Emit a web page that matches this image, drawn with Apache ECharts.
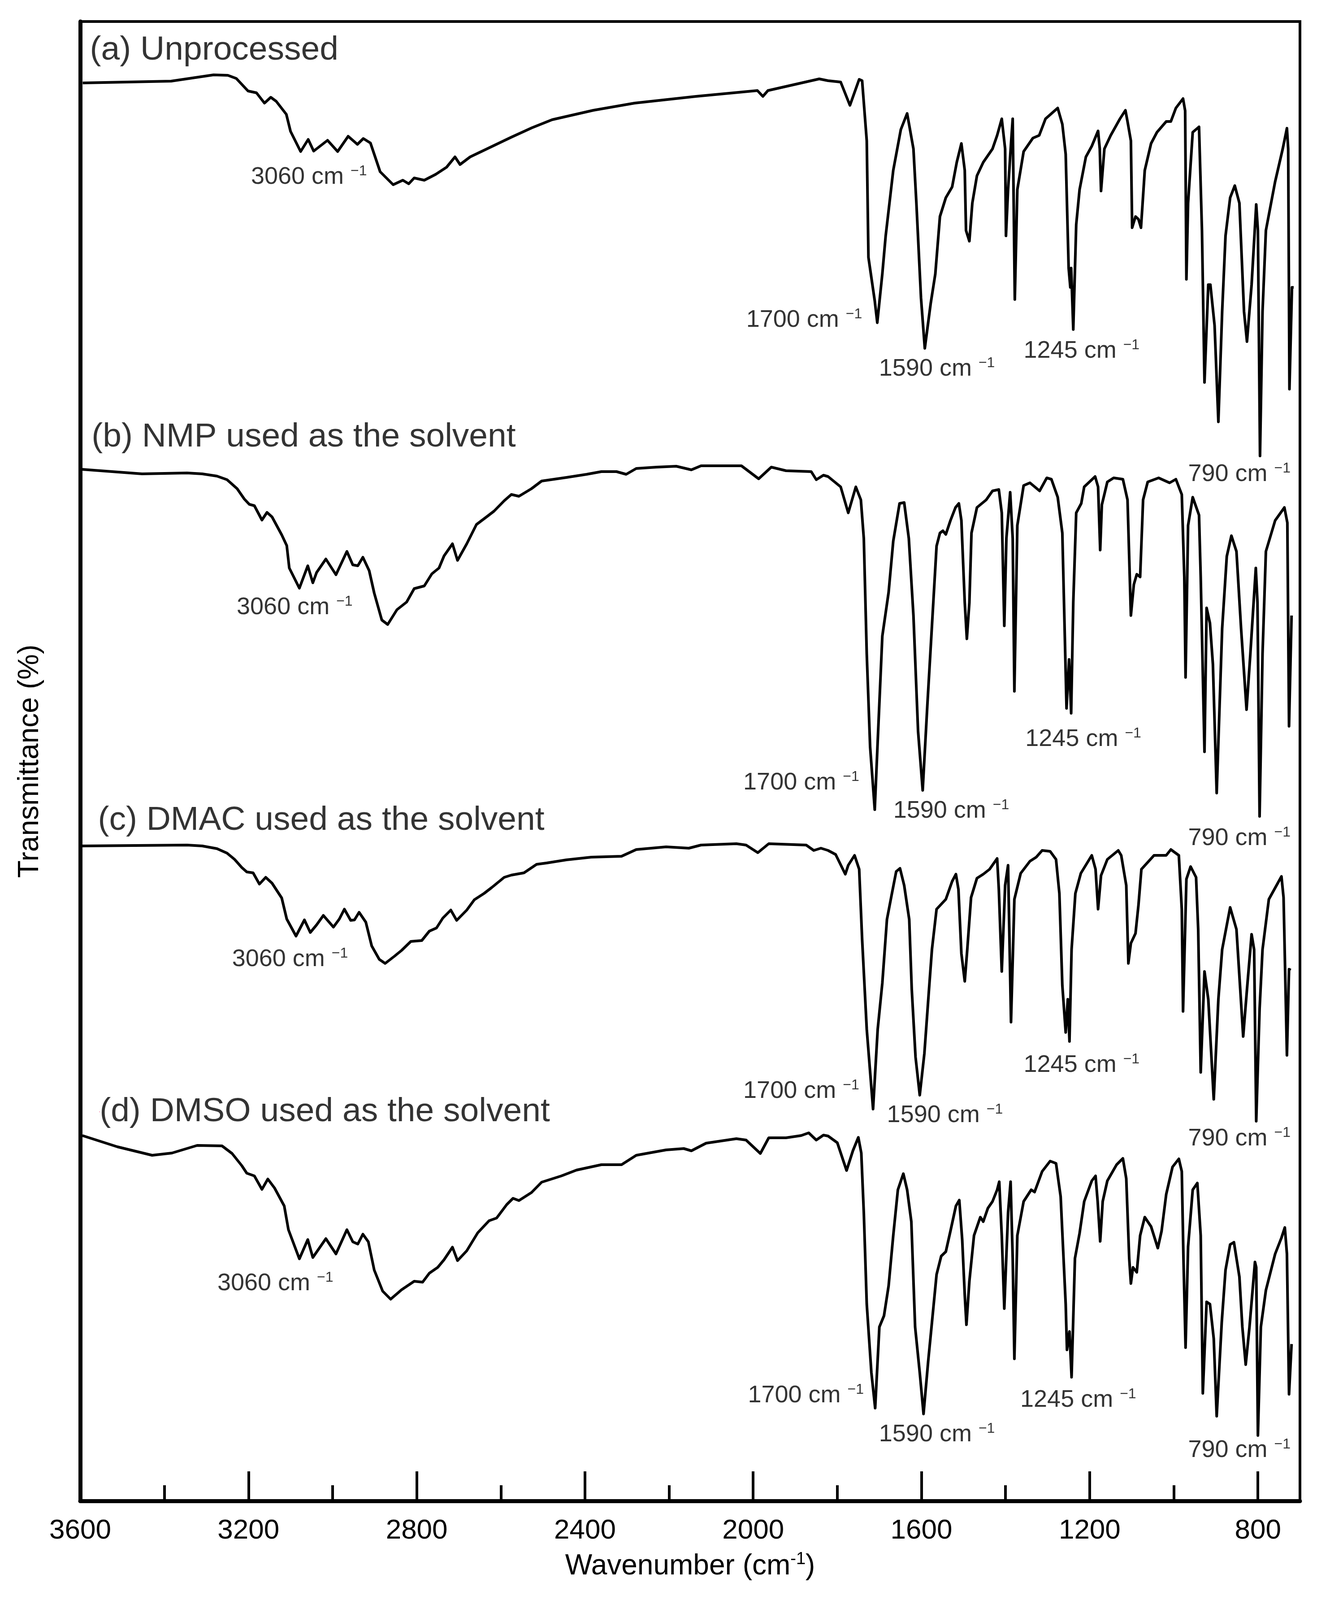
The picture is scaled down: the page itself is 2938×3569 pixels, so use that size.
<!DOCTYPE html>
<html><head><meta charset="utf-8">
<script src="https://cdn.jsdelivr.net/npm/echarts@6/dist/echarts.min.js"></script>
<style>html,body{margin:0;padding:0;background:#fff}#c{width:2938px;height:3569px}</style>
</head><body><div id="c"></div>
<script>
// [wavenumber (cm-1), offset transmittance (inverted display units)]
const specA = [[3594,185],[3384,181],[3283,167],[3249,168],[3229,175],[3201,203],[3181,207],[3162,230],[3147,217],[3134,226],[3110,255],[3100,293],[3076,338],[3058,311],[3045,337],[3012,313],[2988,338],[2963,304],[2941,322],[2927,309],[2910,319],[2887,383],[2856,412],[2833,402],[2819,410],[2806,397],[2782,402],[2755,389],[2729,373],[2709,350],[2697,367],[2673,350],[2624,328],[2575,306],[2526,285],[2478,267],[2380,246],[2282,230],[2136,215],[1990,202],[1977,215],[1965,202],[1843,176],
[1822,180],[1792,183],[1770,235],[1748,177],[1741,180],[1730,314],[1726,574],[1711,671],[1705,720],[1693,611],[1685,526],[1667,380],[1649,289],[1634,253],[1619,332],[1612,453],[1601,665],[1592,777],[1578,677],[1567,611],[1556,483],[1542,441],[1527,417],[1516,362],[1505,320],[1497,380],[1494,514],[1486,538],[1479,453],[1468,392],[1453,362],[1431,332],[1420,302],[1409,265],[1401,332],[1399,526],[1394,423],[1387,320],[1383,265],[1378,668],[1372,423],[1357,338],[1335,308],[1320,302],[1305,265],[1276,241],[1265,277],[1257,344],[1250,598],[1246,641],[1244,598],[1239,735],[1232,501],[1224,423],[1209,350],[1195,326],[1180,292],[1176,332],[1173,426],[1165,332],[1150,302],[1128,265],[1115,246],[1110,271],[1102,314],[1099,508],[1091,483],[1084,489],[1078,508],[1069,380],[1054,320],[1040,295],[1018,271],[1007,271],[995,241],[978,220],[973,247],[970,623],[966,453],[955,295],[940,283],[933,514],[927,853],[918,635],[913,635],[903,726],[894,941],[885,695],[877,526],[866,441],[855,414],[844,453],[833,695],[826,762],[815,635],[804,456],[800,514],[795,1017],[789,695],[781,514],[759,405],[741,332],[731,286],[728,332],[725,868],[719,641],[715,641]];

const specB = [[3595,1047],[3453,1057],[3346,1055],[3310,1057],[3275,1062],[3251,1070],[3227,1090],[3210,1113],[3198,1125],[3186,1128],[3168,1160],[3156,1143],[3144,1153],[3121,1193],[3109,1217],[3103,1267],[3079,1312],[3059,1262],[3047,1300],[3038,1277],[3016,1247],[2992,1282],[2981,1260],[2966,1230],[2952,1260],[2940,1262],[2928,1243],[2913,1273],[2901,1323],[2883,1383],[2869,1393],[2847,1360],[2824,1343],[2806,1313],[2782,1307],[2764,1280],[2747,1267],[2735,1240],[2715,1213],[2703,1250],[2681,1213],[2658,1170],[2634,1153],[2616,1140],[2592,1117],[2575,1103],[2557,1107],[2527,1090],[2503,1073],[2444,1065],[2396,1058],[2361,1052],[2325,1052],[2302,1058],[2278,1045],[2230,1042],[2183,1040],[2147,1048],[2124,1039],[2028,1039],[1987,1068],[1957,1042],[1922,1050],[1862,1052],[1850,1070],[1833,1060],
[1822,1063],[1792,1086],[1774,1144],[1756,1086],[1744,1115],[1737,1201],[1730,1459],[1722,1666],[1711,1806],[1704,1654],[1693,1419],[1678,1321],[1667,1207],[1652,1123],[1641,1121],[1630,1201],[1619,1373],[1608,1631],[1597,1763],[1586,1574],[1575,1396],[1564,1218],[1556,1189],[1549,1184],[1542,1192],[1531,1161],[1519,1132],[1511,1123],[1505,1161],[1497,1344],[1492,1425],[1486,1344],[1481,1189],[1468,1132],[1446,1115],[1431,1095],[1416,1092],[1409,1144],[1403,1396],[1398,1201],[1389,1098],[1383,1201],[1379,1542],[1372,1172],[1357,1083],[1342,1077],[1319,1095],[1302,1066],[1291,1069],[1276,1109],[1265,1189],[1255,1580],[1249,1471],[1244,1591],[1239,1344],[1232,1144],[1220,1123],[1213,1086],[1187,1063],[1180,1086],[1175,1227],[1171,1126],[1158,1075],[1143,1066],[1121,1069],[1110,1115],[1102,1373],[1095,1304],[1088,1281],[1080,1287],[1073,1115],[1062,1075],[1036,1066],[1010,1077],[995,1069],[981,1103],[975,1287],[972,1511],[966,1172],[955,1109],[940,1149],[936,1287],[927,1677],[922,1356],[914,1390],[907,1482],[898,1769],[885,1402],[874,1241],[863,1195],[851,1230],[840,1402],[827,1583],[818,1459],[805,1267],[801,1344],[796,1821],[789,1459],[781,1230],[759,1161],[737,1132],[730,1166],[726,1620],[720,1373]];

const specC = [[3595,1887],[3346,1885],[3310,1887],[3275,1893],[3251,1903],[3233,1917],[3216,1935],[3204,1945],[3189,1947],[3174,1972],[3159,1957],[3144,1970],[3121,2003],[3109,2050],[3087,2088],[3067,2052],[3053,2080],[3038,2063],[3022,2042],[2998,2068],[2984,2050],[2972,2028],[2957,2053],[2948,2052],[2937,2035],[2921,2057],[2907,2110],[2889,2140],[2875,2149],[2853,2133],[2836,2120],[2814,2100],[2788,2098],[2770,2077],[2753,2070],[2738,2048],[2719,2030],[2705,2053],[2681,2030],[2663,2007],[2640,1993],[2622,1980],[2592,1957],[2575,1952],[2545,1947],[2515,1928],[2491,1925],[2444,1918],[2385,1912],[2313,1910],[2278,1895],[2207,1889],[2153,1892],[2124,1885],[2040,1882],[2017,1885],[1989,1902],[1963,1882],[1874,1885],[1856,1897],[1839,1892],
[1822,1897],[1804,1906],[1781,1950],[1774,1930],[1759,1908],[1748,1939],[1741,2095],[1730,2296],[1715,2474],[1704,2296],[1693,2193],[1682,2051],[1671,1997],[1660,1944],[1651,1937],[1641,1975],[1629,2051],[1623,2207],[1614,2358],[1604,2443],[1593,2350],[1582,2207],[1575,2118],[1564,2028],[1553,2017],[1542,2006],[1527,1966],[1518,1950],[1512,1984],[1505,2127],[1497,2189],[1491,2118],[1482,2002],[1468,1959],[1453,1950],[1438,1939],[1420,1915],[1416,1984],[1409,2167],[1401,1975],[1394,1930],[1387,2280],[1379,2006],[1364,1948],[1342,1921],[1327,1912],[1313,1897],[1294,1899],[1280,1917],[1272,1993],[1265,2198],[1257,2303],[1252,2229],[1248,2323],[1243,2118],[1234,1993],[1221,1948],[1195,1908],[1186,1939],[1180,2028],[1173,1953],[1158,1917],[1132,1897],[1125,1908],[1113,1975],[1108,2149],[1102,2104],[1091,2082],[1084,2019],[1077,1939],[1047,1908],[1018,1908],[1007,1895],[988,1908],[981,2028],[978,2256],[970,1961],[960,1933],[947,1957],[942,2073],[936,2392],[927,2167],[918,2229],[905,2452],[894,2229],[885,2118],[866,2024],[851,2073],[842,2207],[835,2312],[826,2207],[815,2084],[809,2118],[804,2501],[796,2251],[789,2118],[774,2006],[744,1955],[739,2002],[731,2354],[726,2162],[722,2164]];

const specD = [[3595,2533],[3512,2558],[3429,2577],[3382,2572],[3322,2555],[3263,2556],[3239,2573],[3216,2600],[3204,2617],[3186,2623],[3168,2653],[3154,2630],[3138,2650],[3115,2690],[3105,2743],[3079,2808],[3059,2765],[3047,2805],[3016,2763],[2992,2797],[2966,2743],[2952,2770],[2940,2775],[2928,2753],[2915,2770],[2901,2833],[2881,2880],[2862,2898],[2836,2877],[2806,2858],[2786,2860],[2770,2840],[2750,2827],[2735,2810],[2715,2782],[2703,2812],[2681,2790],[2655,2750],[2628,2723],[2610,2717],[2586,2687],[2571,2673],[2557,2678],[2527,2660],[2503,2637],[2456,2623],[2420,2610],[2361,2598],[2313,2598],[2278,2577],[2207,2565],[2165,2562],[2147,2567],[2112,2550],[2040,2540],[2017,2543],[1983,2573],[1963,2538],[1922,2538],[1886,2533],[1868,2527],[1850,2543],[1833,2532],
[1822,2534],[1800,2549],[1778,2611],[1763,2567],[1750,2537],[1743,2572],[1737,2705],[1730,2909],[1719,3062],[1710,3141],[1700,2960],[1689,2935],[1678,2868],[1667,2756],[1656,2654],[1643,2618],[1634,2654],[1624,2725],[1615,2960],[1604,3062],[1595,3154],[1584,3037],[1575,2950],[1564,2843],[1553,2802],[1542,2792],[1531,2746],[1518,2690],[1510,2677],[1503,2766],[1497,2889],[1493,2955],[1486,2858],[1475,2756],[1460,2715],[1453,2725],[1442,2695],[1431,2680],[1420,2654],[1415,2636],[1409,2756],[1403,2919],[1394,2705],[1388,2636],[1383,2807],[1379,3031],[1372,2756],[1357,2680],[1339,2654],[1331,2659],[1313,2613],[1294,2590],[1280,2595],[1269,2669],[1257,2909],[1254,3011],[1248,2970],[1243,3072],[1235,2807],[1224,2751],[1213,2680],[1195,2634],[1186,2623],[1181,2680],[1175,2769],[1169,2680],[1158,2634],[1136,2598],[1121,2584],[1113,2629],[1106,2807],[1102,2863],[1097,2827],[1088,2838],[1080,2756],[1069,2715],[1054,2736],[1038,2784],[1029,2746],[1018,2664],[1003,2603],[988,2585],[981,2613],[977,2807],[972,3006],[966,2781],[955,2654],[944,2639],[936,2756],[931,3108],[922,2904],[914,2909],[905,2986],[898,3159],[886,2950],[877,2833],[866,2776],[857,2771],[844,2848],[837,2960],[829,3044],[820,2960],[807,2815],[804,2827],[800,3202],[793,2960],[781,2878],[759,2797],[744,2761],[736,2738],[731,2797],[726,3110],[720,2998]];

const tickLabels = [3600,3200,2800,2400,2000,1600,1200,800];
// annotations: [wavenumber, y, text]
const titles = [[3577,112,'(a) Unprocessed'],[3573,975,'(b) NMP used as the solvent'],[3558,1830,'(c) DMAC used as the solvent'],[3554,2480,'(d) DMSO used as the solvent']];
const peaks = [
 [3194,395,'3060','left'],[1741,714,'1700','right'],[1701,823,'1590','left'],[1357,783,'1245','left'],[966,1058,'790','left'],
 [3228,1355,'3060','left'],[1748,1746,'1700','right'],[1667,1809,'1590','left'],[1353,1649,'1245','left'],[966,1870,'790','left'],
 [3239,2140,'3060','left'],[1748,2434,'1700','right'],[1682,2488,'1590','left'],[1357,2376,'1245','left'],[966,2540,'790','left'],
 [3274,2863,'3060','left'],[1737,3113,'1700','right'],[1701,3200,'1590','left'],[1365,3123,'1245','left'],[966,3235,'790','left']
];

const FONT = '"Liberation Sans", Arial, sans-serif';
const chart = echarts.init(document.getElementById('c'), null, {renderer:'canvas'});
const mk = s => s.map(p => [-p[0], p[1]]);
const lineSeries = [specA,specB,specC,specD].map(s => ({
  type:'line', data: mk(s), showSymbol:false, symbol:'none', xAxisIndex:0,
  lineStyle:{color:'#000', width:6, join:'round'}, z:3, animation:false
}));
const rich = {n:{fontSize:54, fontFamily:FONT, color:'#000', textBorderWidth:0},
  s:{fontSize:32, fontFamily:FONT, color:'#000', textBorderWidth:0, verticalAlign:'top', padding:[0,0,26,0]}};
const peakSeries = peaks.map(p => ({
  type:'scatter', symbolSize:0, animation:false, z:5,
  data:[[-p[0], p[1]]],
  label:{show:true, position:'inside', align:p[3], verticalAlign:'middle', color:'#000', textBorderWidth:0,
    formatter:'{n|'+p[2]+' cm }{s|\u22121}', rich: rich}
}));
const titleSeries = {
  type:'scatter', symbolSize:0, animation:false, z:5,
  data: titles.map(t => ({value:[-t[0], t[1]], name:t[2]})),
  label:{show:true, position:'inside', align:'left', verticalAlign:'middle', textBorderWidth:0,
    formatter: p => p.name, fontSize:75, fontFamily:FONT, color:'#000'}
};

chart.setOption({
  animation:false,
  backgroundColor:'#fff',
  grid:{left:179, right:38, top:48, bottom:221, show:true, borderColor:'#000', borderWidth:6},
  xAxis:[{
    type:'value', min:-3600, max:-700, interval:400, position:'bottom',
    axisLine:{show:true, onZero:false, lineStyle:{color:'#000', width:9}},
    axisTick:{show:true, inside:true, length:66, lineStyle:{color:'#000', width:6}},
    axisLabel:{show:true, margin:36, fontSize:62, fontFamily:FONT, color:'#000', showMaxLabel:false,
      formatter: v => tickLabels.indexOf(-v) >= 0 ? String(-v) : ''},
    splitLine:{show:false},
    name:'{n|Wavenumber (cm}{s|-1}{n|)}', nameLocation:'middle', nameGap:112,
    nameTextStyle:{rich:{n:{fontSize:64, fontFamily:FONT, color:'#000'}, s:{fontSize:38, fontFamily:FONT, color:'#000', verticalAlign:'top', padding:[0,0,30,0]}}}
  },{
    type:'value', min:-3600, max:-700, interval:200, position:'bottom',
    axisLine:{show:false}, axisLabel:{show:false}, splitLine:{show:false},
    axisTick:{show:true, inside:true, length:35, lineStyle:{color:'#000', width:6}}
  }],
  yAxis:{
    type:'value', min:48, max:3348, inverse:true,
    axisLine:{show:true, onZero:false, lineStyle:{color:'#000', width:9}},
    axisTick:{show:false}, axisLabel:{show:false}, splitLine:{show:false},
    name:'Transmittance (%)', nameLocation:'middle', nameGap:80, nameRotate:90,
    nameTextStyle:{fontSize:64, fontFamily:FONT, color:'#000'}
  },
  series: lineSeries.concat(peakSeries, [titleSeries])
});
</script></body></html>
